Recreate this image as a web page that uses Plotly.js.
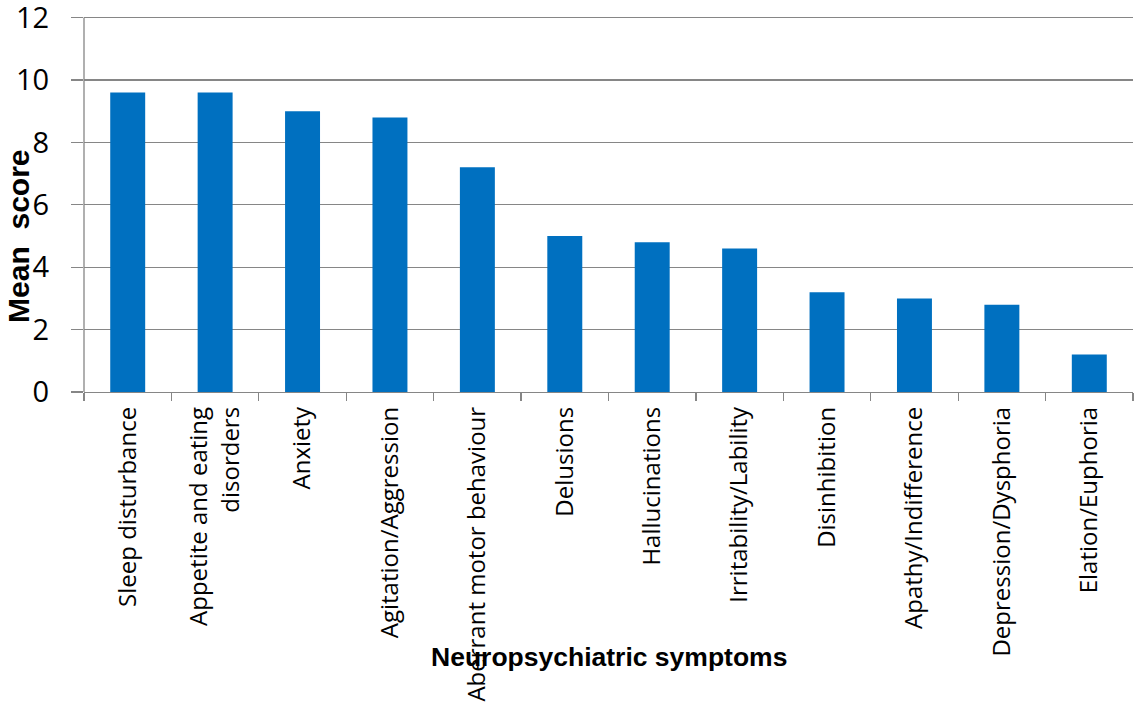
<!DOCTYPE html>
<html><head><meta charset="utf-8">
<script src="https://cdn.plot.ly/plotly-3.0.1.min.js"></script>
<style>html,body{margin:0;padding:0;background:#fff}#c{width:1134px;height:713px}</style>
</head><body><div id="c"></div>
<script>
const categories = ["Sleep disturbance","Appetite and eating<br>disorders","Anxiety","Agitation/Aggression","Aberrant motor behaviour","Delusions","Hallucinations","Irritability/Lability","Disinhibition","Apathy/Indifference","Depression/Dysphoria","Elation/Euphoria"];
const meanScores = [9.6, 9.6, 9.0, 8.8, 7.2, 5.0, 4.8, 4.6, 3.2, 3.0, 2.8, 1.2];
const yTicks = [0, 2, 4, 6, 8, 10, 12];
const yMax = 12;

const trace = {type:'bar', x:categories, y:meanScores, marker:{color:'#0070C0'}, hoverinfo:'none'};
const layout = {
  width:1134, height:713,
  margin:{l:84, r:1, t:2.4, b:321},
  paper_bgcolor:'#fff', plot_bgcolor:'#fff',
  bargap:0.6, showlegend:false,
  xaxis:{type:'category', showgrid:false, showline:true, linecolor:'#868686', linewidth:1.3,
    ticks:'outside', tickson:'boundaries', ticklen:8, tickcolor:'#868686', tickwidth:1.3,
    tickangle:-90, ticklabelstandoff:4, tickfont:{family:'Open Sans, sans-serif', size:24, color:'#000'}},
  yaxis:{range:[0,12.5], tickvals:yTicks, showgrid:true, gridcolor:'#868686', gridwidth:1.3,
    showline:false, ticks:'outside', ticklen:12, tickcolor:'#868686', tickwidth:1.3, ticklabeloverflow:'allow',
    zeroline:false, tickfont:{family:'Open Sans, sans-serif', size:29, color:'#000'}, ticklabelstandoff:16},
  shapes:[
    {type:'line', xref:'paper', yref:'y', x0:0, x1:0, y0:0, y1:yMax, line:{color:'#868686', width:1.3}, layer:'above'}
  ],
  annotations:[
    {text:'<b>Neuropsychiatric symptoms</b>', xref:'paper', yref:'paper', x:0.5, y:-0.6784, showarrow:false, xanchor:'center', yanchor:'middle', font:{family:'Arial, Liberation Sans, sans-serif', size:26.5, color:'#000'}},
    {text:'<b>Mean&nbsp;&nbsp;score</b>', xref:'paper', yref:'paper', x:-0.063, y:0.40, showarrow:false, xanchor:'center', yanchor:'middle', textangle:-90, font:{family:'Arial, Liberation Sans, sans-serif', size:30, color:'#000'}}
  ]
};
Plotly.newPlot('c',[trace],layout,{displayModeBar:false,staticPlot:true});
</script></body></html>
